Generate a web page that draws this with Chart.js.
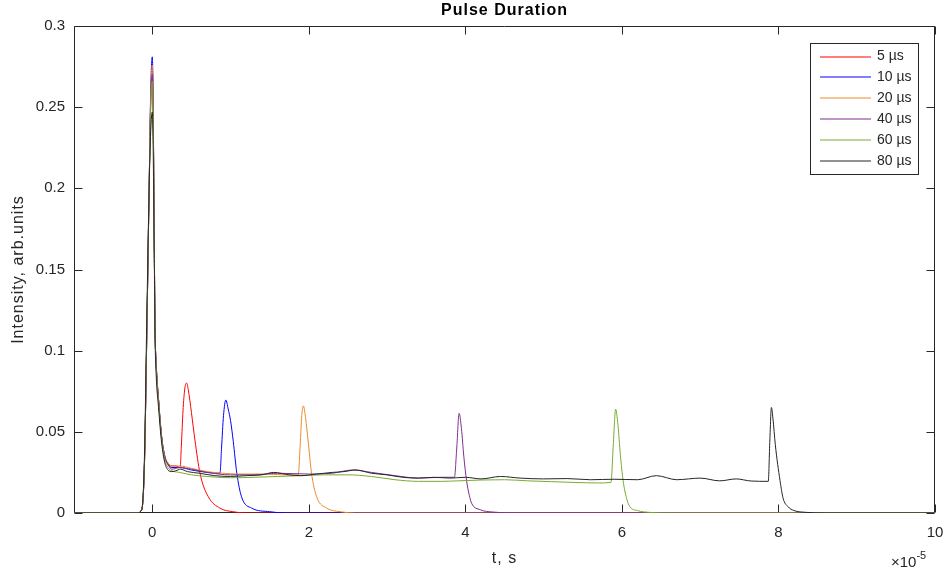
<!DOCTYPE html>
<html>
<head>
<meta charset="utf-8">
<script src="https://cdn.jsdelivr.net/npm/chart.js@4.4.1/dist/chart.umd.min.js"></script>
<style>
  html, body { margin: 0; padding: 0; background: #fff; }
</style>
</head>
<body>
<canvas id="pulseChart" width="944" height="572"></canvas>
<script>
// time is in units of 1e-5 s (axis shows x10^-5)
const labels = ['5 µs', '10 µs', '20 µs', '40 µs', '60 µs', '80 µs'];
const colors = ['#ff0000', '#0000ff', '#ed8a2c', '#7e2f8e', '#77ac30', '#262626'];

const t5 = [-1, -0.2, -0.135, -0.1, -0.07, -0.04, -0.02, 0, 0.01, 0.025, 0.035, 0.05, 0.08, 0.12, 0.16, 0.2,
  0.25, 0.3, 0.355, 0.375, 0.395, 0.42, 0.44, 0.46, 0.5, 0.545, 0.61, 0.716, 0.865, 1.03, 1.25, 10];
const y5 = [0, 0, 0.002, 0.03, 0.11, 0.2, 0.255, 0.274, 0.255, 0.17, 0.115, 0.092, 0.07, 0.046, 0.034, 0.03,
  0.029, 0.029, 0.028, 0.045, 0.065, 0.078, 0.08, 0.076, 0.062, 0.045, 0.0244, 0.01, 0.003, 0.0008, 0, 0];

const t10 = [-1, -0.2, -0.135, -0.1, -0.07, -0.04, -0.02, 0, 0.01, 0.025, 0.035, 0.05, 0.08, 0.12, 0.16, 0.2,
  0.25, 0.35, 0.5, 0.7, 0.865, 0.885, 0.91, 0.94, 0.97, 1.0, 1.035, 1.08, 1.14, 1.27, 1.5, 1.7, 10];
const y10 = [0, 0, 0.002, 0.03, 0.11, 0.2, 0.26, 0.281, 0.26, 0.17, 0.115, 0.092, 0.07, 0.047, 0.035, 0.03,
  0.028, 0.028, 0.0265, 0.025, 0.0245, 0.04, 0.06, 0.0696, 0.064, 0.057, 0.044, 0.0246, 0.01, 0.003, 0.0008, 0, 0];

const t20 = [-1, -0.2, -0.135, -0.1, -0.07, -0.04, -0.02, 0, 0.01, 0.025, 0.035, 0.05, 0.08, 0.12, 0.16, 0.2,
  0.25, 0.35, 0.5, 0.7, 0.9, 1.1, 1.4, 1.7, 1.865, 1.89, 1.91, 1.93, 1.96, 1.99, 2.035, 2.1, 2.23, 2.4, 2.6, 10];
const y20 = [0, 0, 0.002, 0.03, 0.11, 0.2, 0.256, 0.276, 0.256, 0.17, 0.115, 0.092, 0.07, 0.047, 0.035, 0.031,
  0.029, 0.029, 0.0275, 0.0255, 0.0245, 0.024, 0.024, 0.0235, 0.0235, 0.042, 0.06, 0.066, 0.058, 0.045, 0.0244, 0.01,
  0.003, 0.0008, 0, 0];

const t40 = [-1, -0.2, -0.135, -0.1, -0.07, -0.04, -0.02, 0, 0.01, 0.025, 0.035, 0.05, 0.08, 0.12, 0.16, 0.2,
  0.25, 0.35, 0.5, 0.7, 1.0, 1.3, 1.6, 2.0, 2.3, 2.56, 2.8, 3.1, 3.4, 3.7, 3.86, 3.89,
  3.92, 3.95, 3.98, 4.015, 4.05, 4.08, 4.19, 4.35, 4.6, 10];
const y40 = [0, 0, 0.002, 0.03, 0.11, 0.2, 0.252, 0.27, 0.252, 0.17, 0.115, 0.092, 0.07, 0.047, 0.035, 0.03,
  0.027, 0.028, 0.027, 0.025, 0.0235, 0.0235, 0.0245, 0.024, 0.0245, 0.0265, 0.025, 0.023, 0.0215, 0.022, 0.022, 0.04,
  0.0614, 0.052, 0.035, 0.02, 0.011, 0.006, 0.002, 0.0006, 0, 0];

const t60 = [-1, -0.2, -0.135, -0.1, -0.07, -0.04, -0.02, 0, 0.01, 0.025, 0.035, 0.05, 0.08, 0.12, 0.16, 0.2,
  0.25, 0.35, 0.5, 0.7, 1.0, 1.3, 1.6, 1.9, 2.2, 2.5, 2.8, 3.1, 3.4, 3.7, 3.9, 4.2,
  4.5, 4.8, 5.1, 5.4, 5.7, 5.86, 5.89, 5.92, 5.95, 5.98, 6.015, 6.06, 6.1, 6.2, 6.35, 6.6, 10];
const y60 = [0, 0, 0.002, 0.03, 0.11, 0.2, 0.25, 0.266, 0.25, 0.17, 0.115, 0.09, 0.068, 0.045, 0.033, 0.028,
  0.026, 0.025, 0.0235, 0.0225, 0.0217, 0.022, 0.0225, 0.023, 0.0235, 0.0235, 0.0225, 0.0205, 0.0195, 0.0195, 0.0198, 0.0203,
  0.0205, 0.0198, 0.0193, 0.0188, 0.0185, 0.0188, 0.042, 0.064, 0.054, 0.036, 0.02, 0.009, 0.004, 0.0015, 0.0004, 0, 0];

const t80 = [-1, -0.2, -0.135, -0.1, -0.07, -0.04, -0.02, 0, 0.01, 0.025, 0.035, 0.05, 0.08, 0.12, 0.16, 0.2,
  0.25, 0.3, 0.36, 0.45, 0.6, 0.8, 1.0, 1.2, 1.4, 1.55, 1.75, 1.9, 2.1, 2.3, 2.45, 2.6,
  2.8, 3.0, 3.2, 3.4, 3.6, 3.8, 4.0, 4.2, 4.45, 4.7, 5.0, 5.3, 5.6, 5.9, 6.2, 6.44,
  6.7, 7.0, 7.25, 7.46, 7.65, 7.87, 7.89, 7.91, 7.93, 7.96, 8.02, 8.06, 8.12, 8.2, 8.35, 8.6, 10];
const y80 = [0, 0, 0.002, 0.035, 0.12, 0.2, 0.235, 0.247, 0.23, 0.16, 0.11, 0.085, 0.065, 0.043, 0.031, 0.0265,
  0.0255, 0.026, 0.027, 0.0255, 0.0245, 0.023, 0.0225, 0.023, 0.0235, 0.025, 0.0235, 0.023, 0.024, 0.025, 0.0255, 0.0265,
  0.0245, 0.0235, 0.022, 0.0215, 0.022, 0.0215, 0.022, 0.021, 0.0225, 0.0215, 0.021, 0.0212, 0.0205, 0.0208, 0.0205, 0.023,
  0.0205, 0.0215, 0.0198, 0.021, 0.0197, 0.0195, 0.045, 0.065, 0.058, 0.042, 0.02, 0.009, 0.004, 0.0015, 0.0004, 0, 0];

const xTicks = [0, 2, 4, 6, 8, 10];
const yTicks = [0, 0.05, 0.1, 0.15, 0.2, 0.25, 0.3];

const seriesT = [t5, t10, t20, t40, t60, t80];
const seriesY = [y5, y10, y20, y40, y60, y80];

const FONT = "'Liberation Sans', Arial, sans-serif";
const AXIS_COLOR = '#262626';

/* ================= AXES BOX + INWARD TICKS ================= */
const axesBox = {
    id: 'axesBox',
    beforeDatasetsDraw(chart) {
        const { ctx, chartArea: a, scales: { x, y } } = chart;
        const L = Math.round(a.left) + 0.5, R = Math.round(a.right) - 0.5;
        const T = Math.round(a.top) + 0.5, B = Math.round(a.bottom) - 0.5;
        ctx.save();
        ctx.strokeStyle = AXIS_COLOR;
        ctx.lineWidth = 1;
        ctx.beginPath();
        ctx.rect(L, T, R - L, B - T);
        x.ticks.forEach(tk => {
            const px = Math.round(x.getPixelForValue(tk.value)) + 0.5;
            ctx.moveTo(px, B); ctx.lineTo(px, B - 8);
            ctx.moveTo(px, T); ctx.lineTo(px, T + 8);
        });
        y.ticks.forEach(tk => {
            const py = Math.round(y.getPixelForValue(tk.value)) + 0.5;
            ctx.moveTo(L, py); ctx.lineTo(L + 8, py);
            ctx.moveTo(R, py); ctx.lineTo(R - 8, py);
        });
        ctx.stroke();
        ctx.restore();
    },
    afterDraw(chart) {
        const { ctx, chartArea: a } = chart;
        const cx = (a.left + a.right) / 2;
        ctx.save();
        ctx.letterSpacing = '1px';
        ctx.fillStyle = '#000';
        ctx.font = 'bold 16px ' + FONT;
        ctx.textAlign = 'center';
        ctx.textBaseline = 'alphabetic';
        ctx.fillText('Pulse Duration', cx, 15);

        ctx.fillStyle = AXIS_COLOR;
        ctx.font = '16px ' + FONT;
        ctx.fillText('t, s', cx, 563);

        ctx.save();
        ctx.translate(23, (a.top + a.bottom) / 2);
        ctx.rotate(-Math.PI / 2);
        ctx.fillText('Intensity, arb.units', 0, 0);
        ctx.restore();
        ctx.letterSpacing = '0px';

        // exponent label
        ctx.textAlign = 'left';
        ctx.font = '15px ' + FONT;
        ctx.fillText('\u00d710', 891, 567);
        const w = ctx.measureText('\u00d710').width;
        ctx.font = '11px ' + FONT;
        ctx.fillText('-5', 891 + w, 559);

        /* ---- legend ---- */
        const lx = 810, ly = 43, lw = 108, lh = 131;
        ctx.fillStyle = '#fff';
        ctx.fillRect(lx, ly, lw, lh);
        ctx.strokeStyle = AXIS_COLOR;
        ctx.lineWidth = 1;
        ctx.strokeRect(lx + 0.5, ly + 0.5, lw, lh);
        ctx.font = '14px ' + FONT;
        ctx.textBaseline = 'middle';
        labels.forEach((lab, i) => {
            const ry = 56.5 + i * 20.9;
            ctx.strokeStyle = colors[i];
            ctx.lineWidth = 1.2;
            ctx.beginPath();
            ctx.moveTo(820, Math.round(ry));
            ctx.lineTo(871, Math.round(ry));
            ctx.stroke();
            ctx.fillStyle = AXIS_COLOR;
            ctx.fillText(lab, 877, ry);
        });
        ctx.restore();
    }
};

/* ================= CHART ================= */
new Chart(document.getElementById('pulseChart'), {
    type: 'line',
    data: {
        datasets: labels.map((lab, i) => ({
            label: lab,
            data: seriesT[i].map((t, j) => ({ x: t, y: seriesY[i][j] })),
            borderColor: colors[i],
            borderWidth: 1,
            pointRadius: 0,
            cubicInterpolationMode: 'monotone',
            fill: false,
            order: labels.length - i
        }))
    },
    options: {
        responsive: false,
        animation: false,
        events: [],
        layout: { padding: { top: 26, right: 9, left: 0, bottom: 0 } },
        plugins: {
            legend: { display: false },
            tooltip: { enabled: false },
            title: { display: false }
        },
        scales: {
            x: {
                type: 'linear',
                min: -1,
                max: 10,
                afterBuildTicks: s => { s.ticks = xTicks.map(v => ({ value: v })); },
                afterFit: s => { s.height = 59; s.paddingLeft = 0; s.paddingRight = 0; },
                grid: { display: false, drawTicks: false },
                border: { display: false },
                ticks: {
                    color: AXIS_COLOR,
                    font: { family: FONT, size: 15 },
                    padding: 11,
                    maxRotation: 0,
                    callback: v => String(v)
                }
            },
            y: {
                type: 'linear',
                min: 0,
                max: 0.3,
                afterBuildTicks: s => { s.ticks = yTicks.map(v => ({ value: v })); },
                afterFit: s => { s.width = 74; s.paddingTop = 0; s.paddingBottom = 0; },
                grid: { display: false, drawTicks: false },
                border: { display: false },
                ticks: {
                    color: AXIS_COLOR,
                    font: { family: FONT, size: 15 },
                    padding: 9,
                    callback: v => String(v)
                }
            }
        }
    },
    plugins: [axesBox]
});
</script>
</body>
</html>
